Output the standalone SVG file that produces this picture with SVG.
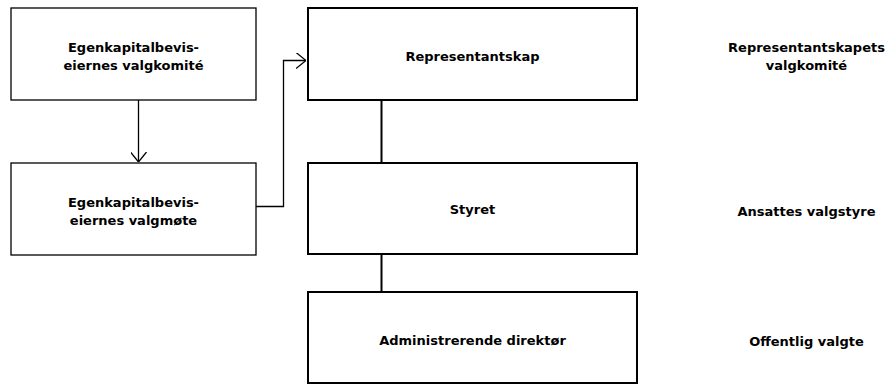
<svg xmlns="http://www.w3.org/2000/svg" width="888" height="385" viewBox="0 0 888 385">
<style>
.b1{fill:#fff;stroke:#000;stroke-width:1.3}
.b2{fill:#fff;stroke:#000;stroke-width:2}
.t{font-family:"DejaVu Sans",sans-serif;font-weight:bold;font-size:13px;fill:#000;text-anchor:middle}
.c{fill:none;stroke:#000;stroke-width:1.3}
.c2{fill:none;stroke:#000;stroke-width:2}
</style>
<defs>
<marker id="ah" viewBox="0 0 10 16" refX="10" refY="8" markerWidth="10" markerHeight="16" markerUnits="userSpaceOnUse" orient="auto">
<path d="M0,0 L10,8 L0,16" fill="none" stroke="#000" stroke-width="1.3"/>
</marker>
</defs>
<g id="connectors">
<line class="c" x1="138.5" y1="100" x2="138.5" y2="162" marker-end="url(#ah)"/>
<path class="c" d="M256,206.5 H283.5 V60.5 H306" marker-end="url(#ah)"/>
<line class="c2" x1="381.5" y1="100" x2="381.5" y2="163"/>
<line class="c2" x1="381.5" y1="254" x2="381.5" y2="292"/>
</g>
<g id="n1"><rect class="b1" x="11" y="8" width="245" height="92"/><text class="t" x="133.5" y="52">Egenkapitalbevis-</text><text class="t" x="133.5" y="70">eiernes valgkomité</text></g>
<g id="n2"><rect class="b1" x="11" y="163" width="245" height="92"/><text class="t" x="133.5" y="207">Egenkapitalbevis-</text><text class="t" x="133.5" y="225">eiernes valgmøte</text></g>
<g id="n3"><rect class="b2" x="308" y="8" width="329" height="92"/><text class="t" x="472.5" y="61">Representantskap</text></g>
<g id="n4"><rect class="b2" x="308" y="163" width="329" height="91"/><text class="t" x="472.5" y="214">Styret</text></g>
<g id="n5"><rect class="b2" x="308" y="292" width="329" height="91"/><text class="t" x="472.5" y="345">Administrerende direktør</text></g>
<g id="n6"><text class="t" x="806.5" y="52">Representantskapets</text><text class="t" x="806.5" y="70">valgkomité</text></g>
<g id="n7"><text class="t" x="806.5" y="216">Ansattes valgstyre</text></g>
<g id="n8"><text class="t" x="806.5" y="346">Offentlig valgte</text></g>
</svg>
